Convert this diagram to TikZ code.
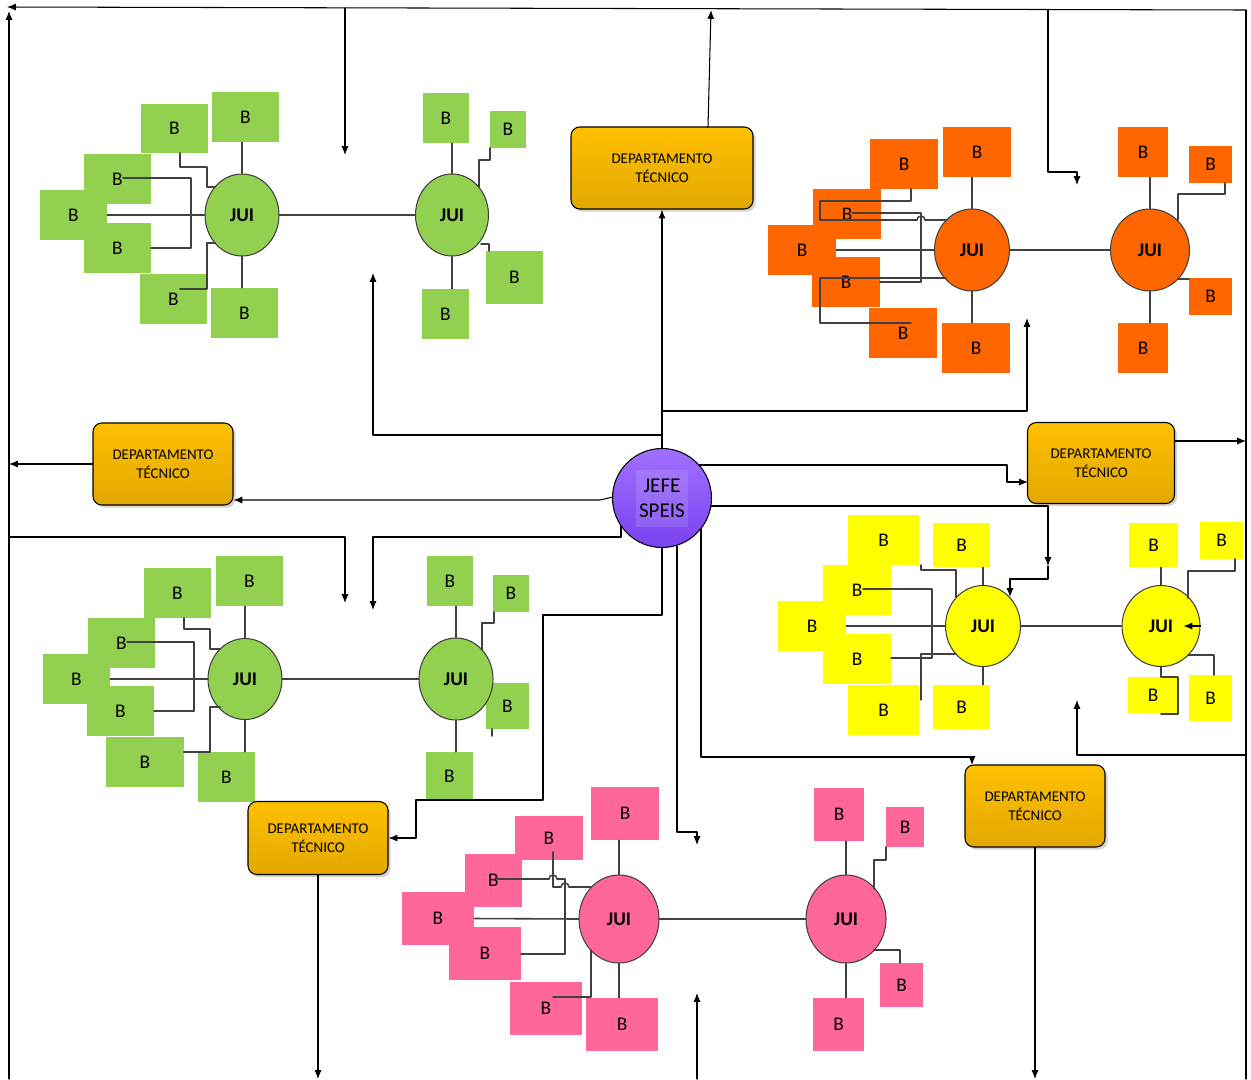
\documentclass[tikz,border=0pt]{standalone}
\usepackage{fontspec}
\setmainfont{Carlito}
\usetikzlibrary{arrows.meta,shapes.geometric,shadows}

\definecolor{grn}{HTML}{92D050}
\definecolor{org}{HTML}{FF6600}
\definecolor{ylw}{HTML}{FFFF00}
\definecolor{pnk}{HTML}{FF6699}
\definecolor{wirec}{HTML}{404040}
\definecolor{deptA}{HTML}{FFC000}
\definecolor{deptB}{HTML}{E2A800}
\definecolor{jefeA}{HTML}{A070FF}
\definecolor{jefeB}{HTML}{7A42F0}

\tikzset{
  bbox/.style={inner sep=0pt, font=\fontsize{11}{13}\selectfont},
  jui/.style={ellipse, draw=wirec, line width=0.6pt, inner sep=0pt,
    font=\bfseries\fontsize{11}{13}\selectfont},
  wire/.style={draw=wirec, line width=0.9pt},
  arr/.style={draw=black, line width=0.6pt, -{Latex[length=5pt,width=4pt]}},
  link/.style={draw=black, line width=0.6pt},
  dept/.style={rectangle, rounded corners=5pt, draw=black, line width=0.6pt,
    top color=deptA, bottom color=deptB, align=center,
    font=\fontsize{8.5}{10.8}\selectfont,
    drop shadow={shadow xshift=1.5pt, shadow yshift=-1.5pt, opacity=0.35}},
}

% box "B": name, colour, x1, y1, x2, y2
\newcommand{\bnode}[6]{%
  \node[bbox, fill=#2, minimum width={(#5-#3)*0.02cm},
    minimum height={(#6-#4)*0.02cm}] (#1) at ({(#3+#5)/2},{(#4+#6)/2}) {B};}
% JUI ellipse: name, colour, cx, cy, w, h
\newcommand{\jnode}[6]{%
  \node[jui, fill=#2, minimum width={#5*0.02cm},
    minimum height={#6*0.02cm}] (#1) at (#3,#4) {JUI};}

\begin{document}
\begin{tikzpicture}[x=0.02cm, y=-0.02cm, line cap=round, line join=round]
\useasboundingbox (0,0) rectangle (1251,1079);

% Outer frame
\coordinate (tl) at (7,7);
\coordinate (tr) at (1246,10);
\coordinate (bl) at (9,1079);
\coordinate (br) at (1246,1079);
\draw[arr] (tr) -- (tl);
\draw[arr] (bl) -- (9,11);
\draw[link] (tr) -- (br);

% Lines hanging from the top
\draw[arr] (345,8) -- (345,155);
\draw[arr] (1048,9.5) -- (1048,172) -- (1077,172) -- (1077,185);

% Top-left cluster
\bnode{ga1}{grn}{141}{104}{208}{153}
\bnode{ga2}{grn}{212}{92}{279}{142}
\bnode{ga3}{grn}{84}{154}{151}{204}
\bnode{ga4}{grn}{40}{190}{107}{240}
\bnode{ga5}{grn}{84}{223}{151}{273}
\bnode{ga6}{grn}{140}{274}{207}{324}
\bnode{ga7}{grn}{211}{288}{278}{338}
\jnode{ga}{grn}{242}{215}{74}{82}
\bnode{gb1}{grn}{423}{93}{469}{143}
\bnode{gb2}{grn}{490}{111}{526}{148}
\bnode{gb3}{grn}{486}{251}{543}{304}
\bnode{gb4}{grn}{422}{289}{469}{339}
\jnode{gb}{grn}{452}{215}{73}{82}

\draw[wire] (ga.north) -- (ga.north |- ga2.south);
\draw[wire] (ga.south) -- (ga.south |- ga7.north);
\draw[wire] (ga4.east) -- (ga.west);
\draw[wire] (180,153) -- (180,167) -- (207,167) -- (207,187) -- (215,187);
\draw[wire] (123,178) -| (191,248) -- (151,248);
\draw[wire] (180,289) -| (207,243) -- (215,243);
\draw[wire] (gb.north) -- (gb.north |- gb1.south);
\draw[wire] (gb.south) -- (gb.south |- gb4.north);
\draw[wire] (490,148) -- (490,160) -| (479,187);
\draw[wire] (481,244) -| (489,251);
\draw[wire] (ga.east) -- (gb.west);

% Top-right cluster
\bnode{oa1}{org}{870}{139}{938}{189}
\bnode{oa2}{org}{943}{127}{1011}{177}
\bnode{oa3}{org}{813}{189}{881}{239}
\bnode{oa4}{org}{768}{225}{836}{275}
\bnode{oa5}{org}{812}{257}{880}{307}
\bnode{oa6}{org}{869}{308}{937}{358}
\bnode{oa7}{org}{942}{323}{1010}{373}
\jnode{oa}{org}{972}{250}{75}{82}
\bnode{ob1}{org}{1118}{127}{1168}{177}
\bnode{ob2}{org}{1189}{146}{1232}{183}
\bnode{ob3}{org}{1189}{278}{1232}{315}
\bnode{ob4}{org}{1118}{323}{1168}{373}
\jnode{ob}{org}{1150}{250}{79}{82}

\draw[wire] (oa.north) -- (oa.north |- oa2.south);
\draw[wire] (oa.south) -- (oa.south |- oa7.north);
\draw[wire] (oa4.east) -- (oa.west);
\draw[wire] (911,189) -- (911,201) -| (820,220) -- (917,220)
    arc[start angle=180, end angle=0, radius=0.08cm] -- (946,220);
\draw[wire] (852,213) -| (921,282) -- (880,282);
\draw[wire] (946,278) -| (820,323) -- (911,323);
\draw[wire] (ob.north) -- (ob.north |- ob1.south);
\draw[wire] (ob.south) -- (ob.south |- ob4.north);
\draw[wire] (1225,183) -- (1225,194) -| (1178,220);
\draw[wire] (1178,279) -- (1189,279);
\draw[wire] (oa.east) -- (ob.west);

% Right-middle cluster
\bnode{ya1}{ylw}{848}{515}{919}{565}
\bnode{ya2}{ylw}{933}{523}{990}{567}
\bnode{ya3}{ylw}{823}{565}{891}{615}
\bnode{ya4}{ylw}{778}{601}{846}{651}
\bnode{ya5}{ylw}{823}{634}{891}{684}
\bnode{ya6}{ylw}{848}{685}{919}{735}
\bnode{ya7}{ylw}{933}{685}{990}{729}
\jnode{ya}{ylw}{983}{626}{75}{81}
\bnode{yb1}{ylw}{1129}{523}{1178}{567}
\bnode{yb2}{ylw}{1200}{522}{1243}{559}
\bnode{yb3}{ylw}{1128}{677}{1178}{713}
\bnode{yb4}{ylw}{1189}{675}{1232}{721}
\jnode{yb}{ylw}{1161}{626}{78}{81}

\draw[wire] (ya.north) -- (ya.north |- ya2.south);
\draw[wire] (ya.south) -- (ya.south |- ya7.north);
\draw[wire] (ya4.east) -- (ya.west);
\draw[wire] (921,565) -- (921,570) -| (956,597);
\draw[wire] (863,589) -| (932,658) -- (891,658);
\draw[wire] (921,700) |- (956,654);
\draw[wire] (yb.north) -- (yb.north |- yb1.south);
\draw[wire] (1235,559) -- (1235,571) -| (1188,598);
\draw[wire] (yb.south) -- (1161,677) -- (1178,677) -- (1178,714) -- (1161,714);
\draw[wire] (1188,655) -| (1214,675);
\draw[wire] (ya.east) -- (yb.west);
\draw[arr] (yb.east) -- ++(-17,0);

% Bottom-left cluster
\bnode{ha1}{grn}{144}{568}{211}{618}
\bnode{ha2}{grn}{216}{556}{283}{606}
\bnode{ha3}{grn}{88}{618}{155}{668}
\bnode{ha4}{grn}{43}{654}{110}{704}
\bnode{ha5}{grn}{87}{686}{154}{736}
\bnode{ha6}{grn}{106}{737}{184}{787}
\bnode{ha7}{grn}{198}{752}{255}{802}
\jnode{ha}{grn}{245}{679}{74}{81}
\bnode{hb1}{grn}{427}{556}{473}{606}
\bnode{hb2}{grn}{493}{575}{529}{612}
\bnode{hb3}{grn}{486}{683}{529}{729}
\bnode{hb4}{grn}{426}{752}{473}{801}
\jnode{hb}{grn}{456}{679}{74}{82}

\draw[wire] (ha.north) -- (ha.north |- ha2.south);
\draw[wire] (ha.south) -- (ha.south |- ha7.north);
\draw[wire] (ha4.east) -- (ha.west);
\draw[wire] (184,618) -- (184,629) -| (210,649) -- (220,649);
\draw[wire] (127,642) -| (194,711) -- (154,711);
\draw[wire] (184,752) -| (210,707) -- (220,707);
\draw[wire] (hb.north) -- (hb.north |- hb1.south);
\draw[wire] (hb.south) -- (hb.south |- hb4.north);
\draw[wire] (494,612) -- (494,623) -| (482,650);
\draw[wire] (492,729) -- (492,736);
\draw[wire] (ha.east) -- (hb.west);

% Bottom cluster
\bnode{pa1}{pnk}{515}{816}{583}{860}
\bnode{pa2}{pnk}{591}{787}{659}{840}
\bnode{pa3}{pnk}{465}{854}{522}{907}
\bnode{pa4}{pnk}{402}{892}{474}{945}
\bnode{pa5}{pnk}{449}{927}{521}{980}
\bnode{pa6}{pnk}{510}{982}{582}{1035}
\bnode{pa7}{pnk}{586}{998}{658}{1051}
\jnode{pa}{pnk}{619}{919}{80}{88}
\bnode{pb1}{pnk}{814}{788}{864}{841}
\bnode{pb2}{pnk}{886}{807}{924}{847}
\bnode{pb3}{pnk}{880}{963}{923}{1007}
\bnode{pb4}{pnk}{813}{998}{864}{1051}
\jnode{pb}{pnk}{846}{919}{80}{88}

\draw[wire] (pa.north) -- (pa.north |- pa2.south);
\draw[wire] (pa.south) -- (pa.south |- pa7.north);
\draw[wire] (pa4.east) -- (pa.west);
\draw[wire] (553,852) -- (553,887) -- (561,887)
    arc[start angle=180, end angle=0, radius=0.08cm] -- (591,887);
\draw[wire] (497,879) -- (549,879)
    arc[start angle=180, end angle=0, radius=0.08cm] -- (565,879) -- (565,954) -- (521,954);
\draw[wire] (553,997) -| (591,950);
\draw[wire] (pb.north) -- (pb.north |- pb1.south);
\draw[wire] (pb.south) -- (pb.south |- pb4.north);
\draw[wire] (886,847) -- (886,860) -| (874,889);
\draw[wire] (874,950) -| (900,963);
\draw[wire] (pa.east) -- (pb.west);

% Departments
\node[dept, minimum width=3.64cm, minimum height=1.64cm] (dtop) at (662,168) {DEPARTAMENTO\\TÉCNICO};
\node[dept, minimum width=2.8cm, minimum height=1.64cm] (dleft) at (163,464) {DEPARTAMENTO\\TÉCNICO};
\node[dept, minimum width=2.94cm, minimum height=1.62cm] (dright) at (1101,463) {DEPARTAMENTO\\TÉCNICO};
\node[dept, minimum width=2.8cm, minimum height=1.46cm] (dbl) at (318,838) {DEPARTAMENTO\\TÉCNICO};
\node[dept, minimum width=2.8cm, minimum height=1.64cm] (dbr) at (1035,806) {DEPARTAMENTO\\TÉCNICO};

% Head node
\node[circle, draw=black, line width=0.6pt, top color=jefeA, bottom color=jefeB,
    minimum size=1.98cm, inner sep=0pt] (jefe) at (662,498) {};
\node[fill=white, fill opacity=0.12, text opacity=1, align=center,
    minimum width=1.04cm, minimum height=1.14cm, inner sep=0pt,
    font=\fontsize{12}{14.2}\selectfont] (jefet) at (jefe.center) {JEFE\\SPEIS};

% From the head
\draw[arr] (jefe.north) -- (dtop.south);
\draw[arr] (708,127) -- (711,10);
\draw[arr] (662,435) -- (373,435) -- (373,273);
\draw[arr] (662,411) -- (1027,411) -- (1027,318);
\draw[arr] (699,465) -- (1007,465) -- (1007,482) -- (1028,482);
\draw[arr] (dright.east |- 0,441) -- (1246,441);
\draw[arr] (711,506) -- (1048,506) -- (1048,566);
\draw[arr] (1048,566) -- (1048,579) -- (1010,579) -- (1010,597);
\draw[arr] (613,497) -- (600,500) -- (dleft.east |- 0,500);
\draw[arr] (dleft.west) -- (9,464);
\draw[arr] (621,526) -- (621,537) -- (373,537) -- (373,610);
\draw[arr] (9,537) -- (345,537) -- (345,603);
\draw[arr] (jefe.south) -- (662,615) -- (543,615) -- (543,800) -- (416,800) -- (416,838) -- (dbl.east);
\draw[arr] (677,546) -- (677,832) -- (697,832) -- (697,845);
\draw[arr] (701,529) -- (701,757) -- (972,757) -- (972,765);
\draw[arr] (697,1079) -- (697,993);
\draw[arr] (dbl.south) -- (318,1079);
\draw[arr] (dbr.south) -- (1035,1079);
\draw[arr] (1246,755) -- (1077,755) -- (1077,700);

\end{tikzpicture}
\end{document}
